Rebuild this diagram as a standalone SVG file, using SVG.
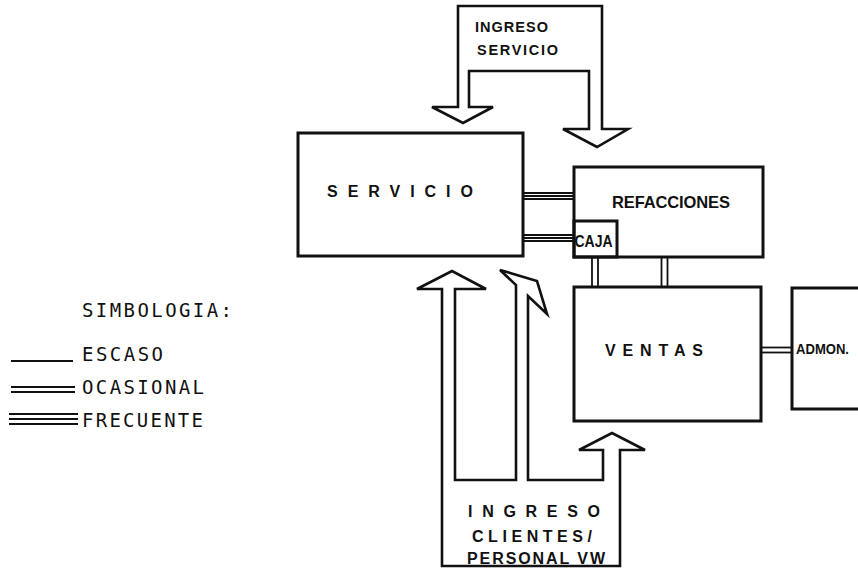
<svg xmlns="http://www.w3.org/2000/svg" width="858" height="569" viewBox="0 0 858 569">
<style>
.box{fill:none;stroke:#111;stroke-width:3}
.arrow{fill:none;stroke:#111;stroke-width:2.6;stroke-linejoin:miter}
.ln{stroke:#111;stroke-width:1.8;fill:none}
.lbl{font-family:"Liberation Sans",Arial,sans-serif;font-weight:bold;fill:#111}
.leg{font-family:"DejaVu Sans Mono","Liberation Mono",monospace;fill:#111}
</style>
<rect width="858" height="569" fill="#fff"/>

<g id="ingreso-servicio">
<path class="arrow" d="M458,6 L602,6 L602,129 L628,129 L597,147 L563,129 L589,129 L589,71 L469,71 L469,107 L493,107 L463,123 L432,107 L458,107 Z"/>
<text class="lbl" x="475" y="32" font-size="14.5" textLength="73" lengthAdjust="spacing">INGRESO</text>
<text class="lbl" x="477" y="55" font-size="14.5" textLength="81" lengthAdjust="spacing">SERVICIO</text>
</g>

<g id="servicio">
<rect class="box" x="298" y="133" width="225" height="123"/>
<text class="lbl" x="327" y="197" font-size="16" textLength="146" lengthAdjust="spacing">SERVICIO</text>
</g>

<g id="refacciones">
<rect class="box" x="574" y="167" width="189" height="90"/>
<text class="lbl" x="612" y="208" font-size="16.5" textLength="118" lengthAdjust="spacing">REFACCIONES</text>
</g>

<g id="caja">
<rect class="box" x="574" y="221" width="43" height="36"/>
<text class="lbl" x="574.5" y="247" font-size="16" textLength="38" lengthAdjust="spacingAndGlyphs">CAJA</text>
</g>

<g id="ventas">
<rect class="box" x="574" y="287" width="187" height="134"/>
<text class="lbl" x="605" y="356" font-size="16" textLength="98" lengthAdjust="spacing">VENTAS</text>
</g>

<g id="admon">
<path class="box" d="M862,288 L792,288 L792,409 L862,409"/>
<text class="lbl" x="796" y="354" font-size="15" textLength="53" lengthAdjust="spacingAndGlyphs">ADMON.</text>
</g>

<g id="ingreso-clientes">
<path class="arrow" d="M442,566 L442,289 L417,289 L452,271 L486,289 L455,289 L455,480 L516,480 L516,285 L500,270 L537,281 L547,314 L528,296 L528,480 L603,480 L603,450 L579,450 L612,433 L645,450 L620,450 L620,566 Z"/>
<text class="lbl" x="468" y="517" font-size="16" textLength="132" lengthAdjust="spacing">INGRESO</text>
<text class="lbl" x="472" y="542" font-size="16" textLength="120" lengthAdjust="spacing">CLIENTES/</text>
<text class="lbl" x="467" y="564" font-size="16" textLength="138" lengthAdjust="spacing">PERSONAL VW</text>
</g>

<g id="connectors">
<line class="ln" x1="523" y1="193" x2="574" y2="193"/>
<line class="ln" x1="523" y1="196" x2="574" y2="196"/>
<line class="ln" x1="523" y1="199" x2="574" y2="199"/>
<line class="ln" x1="523" y1="235" x2="574" y2="235"/>
<line class="ln" x1="523" y1="238" x2="574" y2="238"/>
<line class="ln" x1="523" y1="241" x2="574" y2="241"/>
<line class="ln" x1="592" y1="257" x2="592" y2="287" stroke-width="2.4"/>
<line class="ln" x1="598" y1="257" x2="598" y2="287" stroke-width="2.4"/>
<line class="ln" x1="661.5" y1="257" x2="661.5" y2="287" stroke-width="2.4"/>
<line class="ln" x1="667.5" y1="257" x2="667.5" y2="287" stroke-width="2.4"/>
<line class="ln" x1="761" y1="347.5" x2="792" y2="347.5" stroke-width="2.2"/>
<line class="ln" x1="761" y1="352.5" x2="792" y2="352.5" stroke-width="2.2"/>
</g>

<g id="legend">
<text class="leg" x="82" y="317" font-size="19" textLength="150" lengthAdjust="spacing">SIMBOLOGIA:</text>
<line class="ln" x1="11" y1="361" x2="73" y2="361" stroke-width="2"/>
<text class="leg" x="82" y="361" font-size="19" textLength="81" lengthAdjust="spacing">ESCASO</text>
<line class="ln" x1="11" y1="387" x2="75" y2="387" stroke-width="2"/>
<line class="ln" x1="11" y1="392" x2="75" y2="392" stroke-width="2"/>
<text class="leg" x="82" y="394" font-size="19" textLength="122" lengthAdjust="spacing">OCASIONAL</text>
<line class="ln" x1="9" y1="414" x2="78" y2="414" stroke-width="1.6"/>
<line class="ln" x1="9" y1="419" x2="78" y2="419" stroke-width="2"/>
<line class="ln" x1="9" y1="424" x2="78" y2="424" stroke-width="2"/>
<text class="leg" x="82" y="427" font-size="19" textLength="121" lengthAdjust="spacing">FRECUENTE</text>
</g>
</svg>
